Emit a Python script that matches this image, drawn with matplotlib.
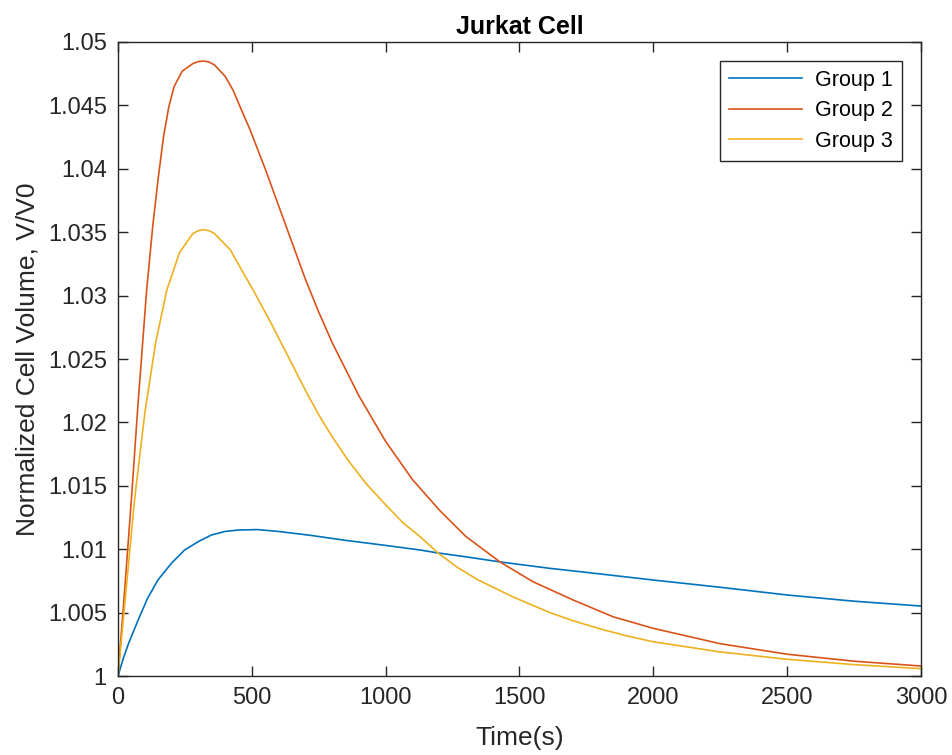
import matplotlib
matplotlib.use('Agg')
import matplotlib.pyplot as plt

# 読み取ったデータ（時間[s], 正規化体積）
t_group1 = [0, 20, 40, 75, 110, 149, 200, 249, 300, 349, 400, 448, 520, 600, 717, 850,
            1000, 1128, 1191, 1300, 1427, 1614, 1726, 2000, 2250, 2500, 2750, 3000]
v_group1 = [1.0, 1.0014, 1.0026, 1.0044, 1.0061, 1.00757, 1.0089, 1.00994, 1.0106,
            1.01112, 1.0114, 1.01151, 1.01155, 1.0114, 1.0111, 1.0107, 1.0103, 1.00994,
            1.00972, 1.0094, 1.0090, 1.00849, 1.00823, 1.00757, 1.0070, 1.00639,
            1.0059, 1.00552]

t_group2 = [0, 25, 50, 75, 107, 130, 150, 170, 190, 210, 240, 280, 300, 320, 340,
            360, 400, 430, 456, 493, 550, 593, 643, 700, 750, 800, 900, 1000, 1100,
            1200, 1300, 1427, 1550, 1700, 1850, 2000, 2250, 2500, 2750, 3000]
v_group2 = [1.0, 1.0068, 1.0139, 1.0215, 1.0304, 1.0355, 1.0392, 1.0425, 1.0449,
            1.0465, 1.0477, 1.0483, 1.04845, 1.0485, 1.04842, 1.0482, 1.0473, 1.0462,
            1.0449, 1.0431, 1.0400, 1.0375, 1.0346, 1.0313, 1.0287, 1.0263, 1.0221,
            1.0185, 1.0155, 1.0131, 1.0110, 1.0090, 1.00744, 1.0060, 1.00467, 1.00376,
            1.00255, 1.00172, 1.00117, 1.00079]

t_group3 = [0, 25, 62, 100, 140, 182, 230, 280, 300, 319, 340, 360, 420, 460, 506,
            575, 643, 700, 750, 800, 860, 930, 1000, 1064, 1128, 1197, 1270, 1346,
            1480, 1614, 1700, 1801, 1900, 2000, 2250, 2500, 2750, 3000]
v_group3 = [1.0, 1.0056, 1.0139, 1.0207, 1.0262, 1.0304, 1.0334, 1.0349, 1.03512,
            1.0352, 1.03512, 1.0349, 1.0336, 1.0321, 1.0304, 1.0277, 1.0249, 1.02254,
            1.0206, 1.01888, 1.0170, 1.0151, 1.0135, 1.0121, 1.0110, 1.00968, 1.00854,
            1.00757, 1.0062, 1.0050, 1.00436, 1.00372, 1.00317, 1.0027, 1.0019,
            1.00132, 1.0009, 1.00058]

labels = ['Group 1', 'Group 2', 'Group 3']
colors = ['#0072BD', '#D95319', '#EDB120']

x_ticks = [0, 500, 1000, 1500, 2000, 2500, 3000]
y_ticks = [1.0, 1.005, 1.01, 1.015, 1.02, 1.025, 1.03, 1.035, 1.04, 1.045, 1.05]
y_tick_labels = ['1', '1.005', '1.01', '1.015', '1.02', '1.025', '1.03',
                 '1.035', '1.04', '1.045', '1.05']

plt.rcParams['font.family'] = ['Liberation Sans', 'DejaVu Sans']
axis_color = '#262626'

fig = plt.figure(figsize=(9.53, 7.55), dpi=100)
ax = fig.add_axes([0.1238, 0.1046, 0.8426, 0.8398])

for t, v, lab, c in zip([t_group1, t_group2, t_group3],
                        [v_group1, v_group2, v_group3], labels, colors):
    ax.plot(t, v, color=c, lw=1.2, label=lab, solid_joinstyle='round')

ax.set_xlim(0, 3000)
ax.set_ylim(1.0, 1.05)
ax.set_xticks(x_ticks)
ax.set_xticklabels([str(x) for x in x_ticks])
ax.set_yticks(y_ticks)
ax.set_yticklabels(y_tick_labels)
ax.tick_params(direction='in', length=7, width=1, colors=axis_color,
               labelsize=17, top=True, right=True, pad=8)
for s in ax.spines.values():
    s.set_color(axis_color)
    s.set_linewidth(1)

ax.set_xlabel('Time(s)', fontsize=19, color=axis_color, labelpad=12)
ax.set_ylabel('Normalized Cell Volume, V/V0', fontsize=19, color=axis_color, labelpad=6)
ax.set_title('Jurkat Cell', fontsize=18, fontweight='bold', color='black', pad=6)

leg = ax.legend(loc='upper right', fontsize=15.5, handlelength=3.4, labelspacing=0.45,
                borderpad=0.4, handletextpad=0.6, fancybox=False, borderaxespad=0,
                edgecolor=axis_color, framealpha=1, bbox_to_anchor=(0.976, 0.970))
leg.get_frame().set_linewidth(1)

fig.savefig('out.png', dpi=100)
